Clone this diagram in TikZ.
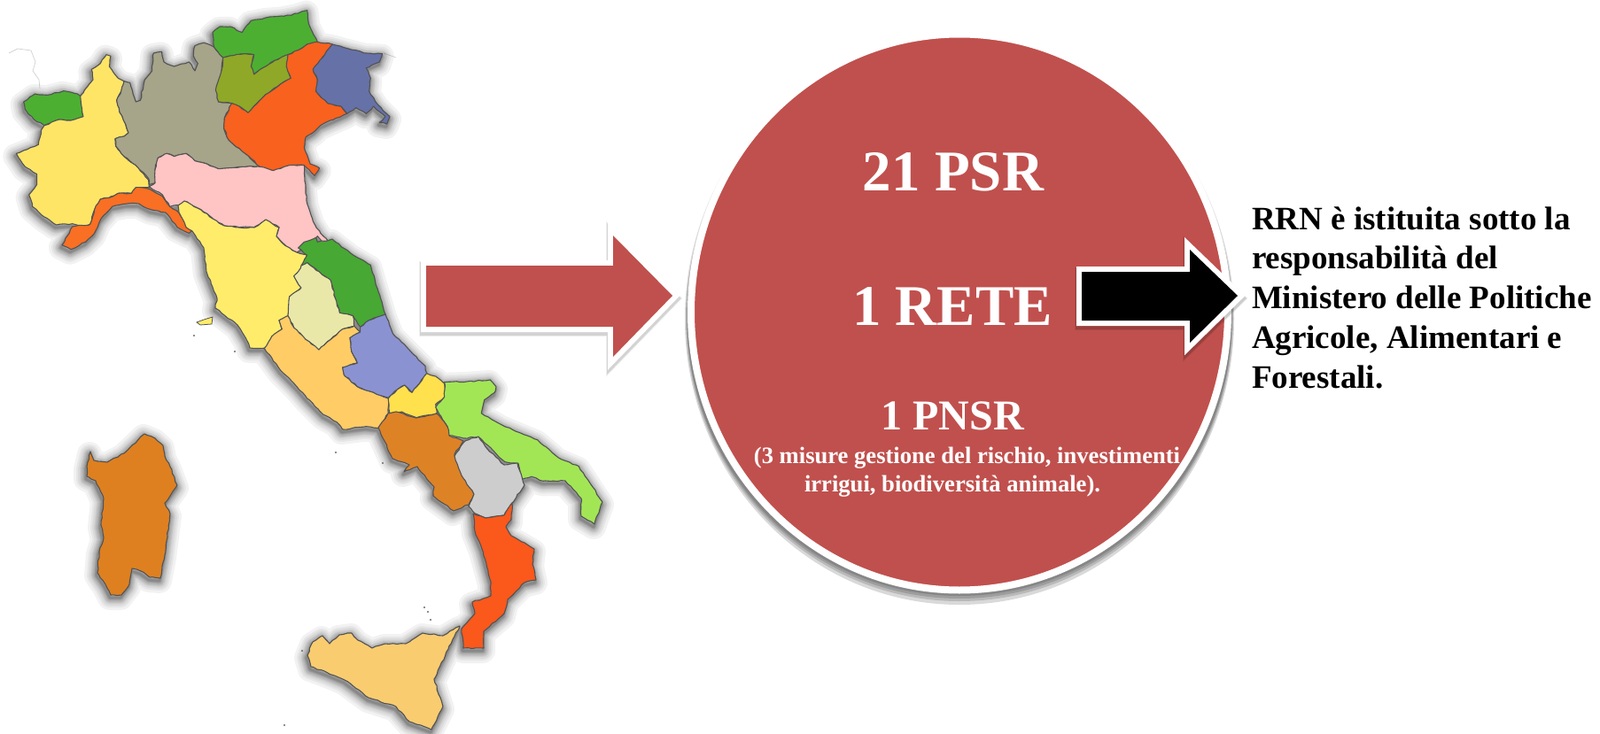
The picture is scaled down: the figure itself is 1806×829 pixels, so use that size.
\documentclass[tikz,border=0pt]{standalone}
\usepackage{fontspec}
\setmainfont{Liberation Serif}
\usetikzlibrary{shapes.geometric,decorations.pathmorphing}
\definecolor{redfill}{HTML}{C0504D}
\tikzset{
  zA/.style={x=.16667pt,y=-.16667pt},
  zB/.style={x=.16667pt,y=-.16667pt,shift={(100pt,-120pt)}},
  region/.style={draw=black!68,line width=.55pt,line join=round,decorate,decoration={random steps,segment length=2.2pt,amplitude=.35pt}},
  boldwhite/.style={inner sep=0,text=white,font=\bfseries\fontsize{#1}{#1}\selectfont},
  blockarrow/.style={line join=miter,miter limit=10},
  alpline/.style={draw=black!18,line width=.35pt}
}
\def\rVda{{[zA] (80,345)--(118,318)--(160,322)--(215,308)--(262,318)--(272,325)--(282,395)--(240,408)--(200,405)--(150,425)--(115,405)--(85,370)--cycle}}
\def\rPie{{[zA] (360,185)--(375,190)--(370,225)--(400,265)--(420,275)--(410,310)--(395,340)--(405,380)--(425,420)--(435,450)--(420,462)--(390,470)--(392,495)--(420,530)--(460,560)--(503,610)--(505,635)--(460,635)--(445,655)--(400,655)--(370,670)--(340,675)--(320,710)--(305,760)--(280,768)--(245,758)--(190,762)--(150,735)--(110,700)--(98,660)--(125,625)--(125,590)--(85,565)--(55,520)--(80,510)--(130,490)--(140,440)--(150,425)--(200,405)--(240,408)--(282,395)--(272,325)--(295,295)--(315,270)--(310,235)--(340,215)--cycle}}
\def\rLom{{[zA] (520,180)--(548,175)--(555,210)--(590,225)--(640,210)--(660,240)--(670,215)--(655,190)--(660,155)--(690,145)--(725,160)--(755,195)--(750,240)--(735,300)--(740,345)--(785,350)--(760,400)--(758,435)--(775,475)--(830,520)--(880,565)--(820,565)--(740,572)--(700,555)--(660,545)--(630,520)--(590,530)--(565,520)--(535,535)--(525,575)--(525,620)--(505,625)--(503,605)--(460,560)--(420,530)--(392,495)--(390,470)--(420,462)--(435,450)--(425,420)--(405,380)--(395,340)--(410,310)--(420,275)--(440,280)--(460,345)--(475,340)--(490,270)--(515,240)--cycle}}
\def\rTaa{{[zA] (720,110)--(745,90)--(780,90)--(820,110)--(850,70)--(900,60)--(960,55)--(1010,45)--(1040,35)--(1045,80)--(1070,130)--(1075,142)--(1040,150)--(1010,170)--(975,185)--(930,205)--(890,230)--(860,252)--(850,225)--(860,185)--(830,182)--(790,188)--(755,195)--(725,160)--cycle}}
\def\rTre{{[zA] (755,195)--(790,188)--(830,182)--(860,185)--(850,225)--(860,252)--(890,230)--(930,205)--(975,185)--(970,225)--(985,265)--(950,285)--(900,320)--(860,360)--(840,382)--(810,360)--(785,350)--(740,345)--(730,305)--(750,240)--cycle}}
\def\rVen{{[zA] (1010,170)--(1040,150)--(1075,142)--(1125,150)--(1100,185)--(1060,235)--(1075,270)--(1070,310)--(1110,350)--(1155,360)--(1175,385)--(1130,405)--(1085,425)--(1065,445)--(1035,465)--(1030,500)--(1050,555)--(1082,570)--(1065,595)--(1030,560)--(980,560)--(925,578)--(880,565)--(830,520)--(775,475)--(758,435)--(760,400)--(785,350)--(810,360)--(840,382)--(860,360)--(900,320)--(950,285)--(985,265)--(970,225)--(975,185)--cycle}}
\def\rFri{{[zA] (1125,150)--(1180,165)--(1240,180)--(1295,182)--(1285,210)--(1240,230)--(1255,265)--(1250,310)--(1280,355)--(1320,395)--(1310,420)--(1285,415)--(1305,395)--(1265,360)--(1240,385)--(1205,365)--(1175,385)--(1155,360)--(1110,350)--(1070,310)--(1075,270)--(1060,235)--(1100,185)--cycle}}
\def\rEmi{{[zA] (535,535)--(565,520)--(590,530)--(630,520)--(660,545)--(700,555)--(740,572)--(820,565)--(880,565)--(925,578)--(980,560)--(1030,560)--(1035,640)--(1040,690)--(1060,750)--(1085,790)--(1110,815)--(1105,838)--(1075,800)--(1060,815)--(1005,855)--(970,835)--(935,800)--(945,770)--(900,745)--(860,770)--(810,770)--(760,765)--(720,740)--(680,710)--(625,682)--(605,695)--(575,700)--(550,660)--(505,632)--(525,620)--(525,575)--cycle}}
\def\rLig{{[zA] (245,768)--(305,760)--(320,710)--(340,675)--(370,670)--(400,655)--(445,655)--(460,635)--(505,640)--(550,665)--(575,700)--(605,720)--(630,770)--(650,782)--(640,790)--(600,770)--(560,720)--(510,710)--(470,690)--(430,690)--(380,700)--(340,745)--(320,790)--(290,820)--(240,845)--(210,830)--(235,790)--cycle}}
\def\rTus{(201,232)--(208,227)--(227,237)--(240,247)--(253,255)--(270,257)--(287,257)--(300,248)--(315,257)--(312,267)--(323,278)--(335,285)--(347,288)--(337,307)--(332,312)--(340,325)--(327,335)--(325,357)--(315,362)--(318,372)--(307,380)--(300,393)--(282,393)--(278,383)--(268,367)--(243,348)--(245,337)--(233,307)--(230,280)--(217,261)--(210,257)--(202,240)--cycle}
\def\rMar{{[zB] (410,120)--(430,100)--(470,85)--(475,100)--(510,95)--(525,90)--(590,140)--(655,178)--(670,230)--(705,345)--(650,365)--(620,388)--(595,350)--(550,340)--(535,290)--(520,230)--(490,210)--(440,170)--(420,180)--(440,145)--cycle}}
\def\rUmb{{[zB] (420,180)--(440,170)--(490,210)--(520,230)--(535,290)--(550,340)--(595,350)--(600,385)--(560,395)--(520,430)--(480,465)--(435,430)--(395,390)--(375,350)--(380,285)--(420,255)--(395,215)--(410,200)--cycle}}
\def\rLaz{{[zB] (345,365)--(375,350)--(395,390)--(435,430)--(480,465)--(520,430)--(560,395)--(600,385)--(620,405)--(585,425)--(590,470)--(610,510)--(560,525)--(565,550)--(610,590)--(650,605)--(715,630)--(715,680)--(680,730)--(640,725)--(560,735)--(540,710)--(495,685)--(440,630)--(405,590)--(350,535)--(295,460)--(320,420)--(355,395)--cycle}}
\def\rAbr{{[zB] (620,388)--(650,365)--(705,345)--(730,410)--(790,470)--(840,520)--(845,545)--(820,580)--(795,610)--(770,585)--(745,600)--(715,628)--(650,605)--(610,590)--(565,550)--(560,525)--(610,510)--(590,470)--(585,425)--(620,405)--cycle}}
\def\rMol{{[zB] (845,545)--(875,555)--(905,580)--(905,625)--(875,650)--(880,680)--(810,695)--(760,675)--(720,690)--(715,630)--(745,600)--(770,585)--(795,610)--(820,580)--cycle}}
\def\rPug{(501.7,431.7)--(526.7,431)--(553.3,429)--(560,436.7)--(558.3,443.3)--(546.7,451.7)--(543.3,466.7)--(566.7,480)--(606.7,496.7)--(630,516.7)--(653.3,526.7)--(666.7,546.7)--(680,567)--(671,592)--(656,583)--(656,563)--(638,543)--(613.3,543.3)--(600,538.3)--(588.3,541.7)--(585,523.3)--(570,521.7)--(546.7,500)--(540,493.3)--(523.3,495)--(506.7,491.7)--(505,481.7)--(491.7,460)--(501.7,448.3)--cycle}
\def\rCam{(438,467)--(447,465)--(470,472)--(493,467)--(505,482)--(507,492)--(523,498)--(513,513)--(522,537)--(535,558)--(529,570)--(512,577)--(489,560)--(490,550)--(471,527)--(456,533)--(462,525)--(443,518)--(429,487)--(427,483)--cycle}
\def\rBas{(525,498)--(540,493)--(550,507)--(569,525)--(584,523)--(592,548)--(578,568)--(569,582)--(548,585)--(534,578)--(529,572)--(535,558)--(521,537)--(513,515)--cycle}
\def\rCal{(534,580)--(548,585)--(569,582)--(578,568)--(577,587)--(571,595)--(577,605)--(603,620)--(601,637)--(605,655)--(592,658)--(573,677)--(569,693)--(546,713)--(546,732)--(523,732)--(521,710)--(536,693)--(533,680)--(554,673)--(554,657)--(544,620)--(536,600)--cycle}
\def\rSic{(364,718)--(372,727)--(383,717)--(397,715)--(404,723)--(420,732)--(435,727)--(458,727)--(477,715)--(500,718)--(519,707)--(506,733)--(490,767)--(500,798)--(487,824)--(462,815)--(447,798)--(416,788)--(389,768)--(370,760)--(351,753)--(347,740)--(353,725)--cycle}
\def\rSar{(102,510)--(106,520)--(121,522)--(140,512)--(163,490)--(175,495)--(184,503)--(186,515)--(192,527)--(200,548)--(186,568)--(192,580)--(186,627)--(181,653)--(169,652)--(159,645)--(149,642)--(146,660)--(137,672)--(125,672)--(119,660)--(110,647)--(112,623)--(117,607)--(114,593)--(117,563)--(108,543)--(98,538)--(98,527)--cycle}
\def\rAll{\rVda \rPie \rLom \rTaa \rTre \rVen \rFri \rEmi \rLig \rTus \rMar \rUmb \rLaz \rAbr \rMol \rPug \rCam \rBas \rCal \rSic \rSar}
\def\arrRed{(481,300)--(692,300)--(692,266)--(759,334)--(692,403)--(692,369)--(481,369)--cycle}
\def\arrBlk{(1221,307)--(1343,307)--(1343,282)--(1397,334)--(1343,387)--(1343,362)--(1221,362)--cycle}
\begin{document}
\begin{tikzpicture}[x=.5pt,y=-.5pt]
\useasboundingbox (0,0) rectangle (1806,829);
% faint Alpine border traces
\draw[alpline] (10,60)--(20,55)--(35,57)--(40,70)--(37,80)--(44,90)--(45,100);
\draw[alpline] (433,60)--(447,65);
% map shadow
\foreach \w in {14,11,9,7,6,5,4,3,2.5,2,1.5,1}
  \path[draw=black,draw opacity=.05,line join=round,shift={(-.5pt,-1.5pt)},line width=\w pt] \rAll;
% regions
\path[region,fill={rgb,255:red,76;green,175;blue,50}] \rVda;
\path[region,fill={rgb,255:red,255;green,229;blue,102}] \rPie;
\path[region,fill={rgb,255:red,166;green,164;blue,137}] \rLom;
\path[region,fill={rgb,255:red,76;green,175;blue,50}] \rTaa;
\path[region,fill={rgb,255:red,143;green,168;blue,39}] \rTre;
\path[region,fill={rgb,255:red,249;green,97;blue,30}] \rVen;
\path[region,fill={rgb,255:red,102;green,113;blue,168}] \rFri;
\path[region,fill={rgb,255:red,255;green,196;blue,196}] \rEmi;
\path[region,fill={rgb,255:red,255;green,236;blue,107}] \rTus;
\path[region,fill={rgb,255:red,249;green,111;blue,35}] \rLig;
\path[region,fill={rgb,255:red,71;green,168;blue,51}] \rMar;
\path[region,fill={rgb,255:red,234;green,232;blue,168}] \rUmb;
\path[region,fill={rgb,255:red,255;green,204;blue,102}] \rLaz;
\path[region,fill={rgb,255:red,138;green,146;blue,210}] \rAbr;
\path[region,fill={rgb,255:red,255;green,224;blue,77}] \rMol;
\path[region,fill={rgb,255:red,162;green,230;blue,85}] \rPug;
\path[region,fill={rgb,255:red,222;green,130;blue,38}] \rCam;
\path[region,fill={rgb,255:red,205;green,205;blue,205}] \rBas;
\path[region,fill={rgb,255:red,251;green,88;blue,28}] \rCal;
\path[region,fill={rgb,255:red,249;green,204;blue,112}] \rSic;
\path[region,fill={rgb,255:red,222;green,128;blue,32}] \rSar;
% small islands
\path[draw=black!68,line width=.4pt,fill={rgb,255:red,255;green,236;blue,107}] (222,364)--(230,361)--(240,358)--(239,366)--(226,367)--cycle;
\foreach \p in {(219,379),(265,397),(432,523),(379,511),(479,686),(483,691),(486,700),(341,735),(321,819)}
  \fill[black!60] \p circle (1.2);
% left block arrow
\path[draw=black,draw opacity=.12,blockarrow,shift={(0pt,-1.5pt)},line width=7pt] \arrRed;
\path[draw=black,draw opacity=.06,blockarrow,shift={(0pt,-1.5pt)},line width=8pt] \arrRed;
\path[draw=white,line width=6pt,blockarrow] \arrRed;
\path[fill=redfill] \arrRed;
% circle with its soft shadow
\foreach \a/\b in {310/323,309/319,308/316,307.5/313}
  \path[fill=black,fill opacity=.15] (1083,360) ellipse [x radius=\a,y radius=\b];
\node (rete) [ellipse,draw=white,line width=4pt,fill=redfill,inner sep=0,outer sep=0,minimum width=303pt,minimum height=314pt] at (1083,352.5) {};
% texts in the circle
\node (psr) [boldwhite=32.5,anchor=base] at (1076,215) {21 PSR};
\node (una) [boldwhite=32.5,anchor=base] at (1075,367) {1 RETE};
\node (pnsr) [boldwhite=24,anchor=base] at (1075,485) {1 PNSR};
\node (mis) [boldwhite=13.3,anchor=base] at (1091.5,523) {(3 misure gestione del rischio, investimenti};
\node (irr) [boldwhite=13.3,anchor=base] at (1075,555) {irrigui, biodiversità animale).};
% black block arrow
\path[draw=black,draw opacity=.14,blockarrow,shift={(0pt,-1.5pt)},line width=7pt] \arrBlk;
\path[draw=black,draw opacity=.07,blockarrow,shift={(0pt,-1.5pt)},line width=8pt] \arrBlk;
\path[draw=white,line width=6pt,blockarrow] \arrBlk;
\path[fill=black] \arrBlk;
% right text
\node (rrn) [anchor=north west,inner sep=0,align=left,font=\bfseries\fontsize{18.5}{22.4}\selectfont] at (1412.6,233) {RRN è istituita sotto la\\responsabilità del\\Ministero delle Politiche\\Agricole, Alimentari e\\Forestali.};
\end{tikzpicture}
\end{document}
